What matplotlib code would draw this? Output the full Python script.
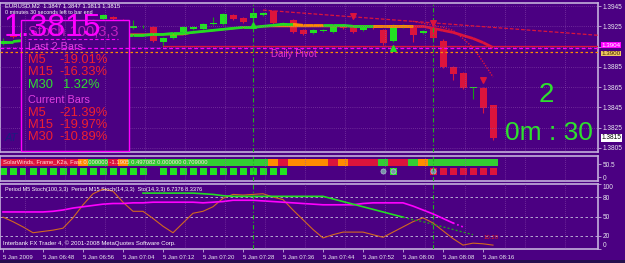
import numpy as np
import matplotlib.pyplot as plt
from matplotlib.patches import Rectangle
from matplotlib.lines import Line2D
from matplotlib.transforms import blended_transform_factory

plt.rcParams['font.family'] = ['Liberation Sans', 'DejaVu Sans']

W, H = 625, 263
BG = '#4B0082'
FRAME = '#C4B0DC'
GRID = '#9050B0'
BULL = '#22E022'
BEAR = '#DC143C'
ORANGE = '#FF8C00'
MAGENTA = '#FF00FF'
TXT = '#E8E8F0'

# ---- EURUSD M2 candles (bar 0 = 5 Jan 2009 06:40) ----
opens = [1.3908, 1.3917, 1.3914, 1.3918, 1.3916, 1.3921, 1.3924, 1.3922, 1.3927, 1.3929,
         1.3932, 1.3934, 1.3931, 1.3923, 1.3925, 1.3924, 1.3910, 1.3913, 1.3919, 1.3922,
         1.3922, 1.3927, 1.3927, 1.3936, 1.3933, 1.3933, 1.3936, 1.3940, 1.3926, 1.3931,
         1.3921, 1.3918, 1.3920, 1.3919, 1.3925, 1.3924, 1.3921, 1.3925, 1.3921, 1.3911,
         1.3924, 1.3924, 1.3918, 1.3923, 1.3911, 1.3885, 1.3879, 1.3864, 1.3864, 1.3847]
highs = [1.3913, 1.3918, 1.3919, 1.3920, 1.3922, 1.3925, 1.3926, 1.3928, 1.3930, 1.3932,
         1.3937, 1.3935, 1.3932, 1.3931, 1.3926, 1.3925, 1.3914, 1.3919, 1.3925, 1.3925,
         1.3928, 1.3934, 1.3938, 1.3937, 1.3934, 1.3939, 1.3939, 1.3941, 1.3929, 1.3932,
         1.3922, 1.3922, 1.3922, 1.3925, 1.3926, 1.3925, 1.3926, 1.3926, 1.3922, 1.3927,
         1.3927, 1.3926, 1.3921, 1.3925, 1.3912, 1.3886, 1.3880, 1.3865, 1.3865, 1.3847]
lows = [1.3907, 1.3913, 1.3913, 1.3915, 1.3915, 1.3920, 1.3921, 1.3921, 1.3925, 1.3928,
        1.3931, 1.3931, 1.3925, 1.3922, 1.3923, 1.3910, 1.3906, 1.3912, 1.3918, 1.3921,
        1.3921, 1.3926, 1.3926, 1.3931, 1.3928, 1.3932, 1.3935, 1.3927, 1.3925, 1.3918,
        1.3916, 1.3917, 1.3919, 1.3918, 1.3922, 1.3918, 1.3920, 1.3922, 1.3907, 1.3910,
        1.3923, 1.3910, 1.3917, 1.3912, 1.3884, 1.3872, 1.3863, 1.3853, 1.3839, 1.3813]
closes = [1.3911, 1.3914, 1.3918, 1.3916, 1.3921, 1.3924, 1.3922, 1.3927, 1.3929, 1.3931,
          1.3936, 1.3932, 1.3926, 1.3925, 1.3925, 1.3911, 1.3913, 1.3918, 1.3924, 1.3924,
          1.3927, 1.3927, 1.3937, 1.3932, 1.3929, 1.3938, 1.3938, 1.3928, 1.3928, 1.3919,
          1.3917, 1.3921, 1.3921, 1.3924, 1.3923, 1.3919, 1.3925, 1.3923, 1.3909, 1.3926,
          1.3926, 1.3916, 1.3920, 1.3913, 1.3885, 1.3878, 1.3864, 1.3865, 1.3844, 1.3815]

# moving averages
ma_fast = [1.3910, 1.3910, 1.3911, 1.3911, 1.3912, 1.3912, 1.3912, 1.3913, 1.3913, 1.3914,
           1.3914, 1.3915, 1.3915, 1.3916, 1.3916, 1.3917, 1.3917, 1.3918, 1.3918, 1.3919,
           1.3920, 1.3921, 1.3922, 1.3923, 1.3924, 1.3924, 1.3925, 1.3926, 1.3927, 1.3927,
           1.3926, 1.3926, 1.3926, 1.3926, 1.3926, 1.3925, 1.3925, 1.3925, 1.3925, 1.3925,
           1.3925, 1.3925, 1.3925, 1.3923, 1.3921, 1.3919, 1.3916, 1.3913, 1.3909, 1.3904]
ma_state = 'g' * 30 + 'o' * 3 + 'g' * 5 + 'o' * 4 + 'r' * 8
ma_slow = [np.nan] * 10 + [1.3917] * 9 + [1.3919, 1.3920, 1.3921, 1.3922, 1.3923, 1.3924,
                                          1.3924, 1.3925, 1.3925] + [1.3925] * 15 + [np.nan] * 7
env_bars = [41, 42, 43, 44, 45, 46, 47, 48, 49]
env_prices = [1.3930, 1.3928, 1.3926, 1.3924, 1.3921, 1.3913, 1.3904, 1.3890, 1.3875]
trend_bars = [26, 59.7]
trend_prices = [1.3941, 1.3916]

red_level = 1.3906
red_level_start = 16
pivot_level = 1.3904
orange_level = 1.3900

up_bars = [25, 39]
up_prices = [1.3926, 1.3904]
down_bars = [35, 43, 48]
down_prices = [1.3935, 1.3928, 1.3872]

session_bars = [25, 43]

price_ticks = [1.3805, 1.3825, 1.3845, 1.3865, 1.3885, 1.3905, 1.3925, 1.3945]

# ---- middle indicator panel ----
strip_codes = 'r' * 8 + 'o' + 'gg' + 'r' + 'o' + 'g' * 14 + 'o' + 'r' + 'oooo' + 'r' + 'o' + 'rrr' + 'g' + 'rr' + 'g' + 'o' + 'g' * 7
square_codes = 'g' * 15 + '.' + 'g' * 13 + '.' * 10 + 'g' + '...' + 'r' * 7
circle_bars = [38, 39, 43]

# ---- stochastic panel ----
stoch_green = [np.nan] * 14 + [86, 86, 86, 86, 86, 86, 85, 84, 82, 81,
                               81, 81, 81, 81, 81, 81, 81, 81, 81, 77,
                               73, 69, 65, 61, 57, 53, 49, 45, 42, 38,
                               34, 30, 26, 22] + [np.nan] * 2
stoch_magenta = [57, 57, 57, 57, 57, 58, 60, 63, 65, 67,
                 69, 70, 70, 71, 71, 72, 72, 72, 72, 72,
                 71, 72, 73, 75, 75, 75, 74, 73, 72, 71,
                 70, 69, 68, 68, 68, 68, 70, 71, 71, 71,
                 71, 66, 60, 54, 47, 40, 34, np.nan, np.nan, np.nan]
stoch_orange = [49, 42, 34, 25, 27, 29, 32, 48, 68, 85,
                92, 89, 72, 58, 58, 47, 35, 25, 40, 55,
                58, 65, 78, 84, 83, 84, 85, 80, 76, 60,
                45, 30, 17, 22, 26, 26, 26, 22, 18, 26,
                34, 42, 48, 40, 28, 16, 6, 9, 8, 6]
stoch_levels = [20, 50, 80]

time_bars = [0, 4, 8, 12, 16, 20, 24, 28, 32, 36, 40, 44, 48]
time_labels = ['5 Jan 2009', '5 Jan 06:48', '5 Jan 06:56', '5 Jan 07:04', '5 Jan 07:12',
               '5 Jan 07:20', '5 Jan 07:28', '5 Jan 07:36', '5 Jan 07:44', '5 Jan 07:52',
               '5 Jan 08:00', '5 Jan 08:08', '5 Jan 08:16']


def fx(px):
    return px / W


def fy(py):
    return 1 - py / H


fig = plt.figure(figsize=(W / 100, H / 100), dpi=100, facecolor=BG)
fig.patches.append(Rectangle((0, 0), 1, fy(260), transform=fig.transFigure,
                             facecolor='#24104E', edgecolor='none', zorder=0))

ax1 = fig.add_axes([0, fy(152), 598 / W, (152 - 3) / H])
ax2 = fig.add_axes([0, fy(181), 598 / W, (181 - 156) / H])
ax3 = fig.add_axes([0, fy(249), 598 / W, (249 - 184) / H])

x = np.arange(len(opens))
grid_x = [b + 2.2 for b in time_bars] + [52.2, 56.2]

for ax in (ax1, ax2, ax3):
    ax.set_facecolor(BG)
    ax.set_xlim(-0.3, 59.5)
    for s in ax.spines.values():
        s.set_color(FRAME)
        s.set_linewidth(1.2)
    ax.yaxis.tick_right()
    ax.tick_params(axis='y', colors=FRAME, labelcolor=TXT, labelsize=4.7, length=2, pad=1.5, width=0.6)
    for gx in grid_x:
        ax.axvline(gx, color=GRID, ls=(0, (1, 2)), lw=0.5, zorder=3.5)
    for b in session_bars:
        ax.axvline(b, color='#20B020', ls=(0, (4, 2, 1, 2)), lw=0.8, zorder=5)

ax1.tick_params(axis='x', length=0, labelbottom=False)
ax2.tick_params(axis='x', length=0, labelbottom=False)

# ---- main price chart ----
o = np.array(opens)
c = np.array(closes)
up = c >= o
body_bottom = np.minimum(o, c)
body_h = np.maximum(np.abs(c - o), 0.00008)
ax1.vlines(x, lows, highs, colors=np.where(up, '#169A16', BEAR), lw=0.8, zorder=2)
ax1.bar(x, body_h, bottom=body_bottom, width=0.7, color=np.where(up, BULL, BEAR), zorder=2.2)

ax1.plot(x, ma_slow, color=ORANGE, lw=1.3, zorder=2.4)
seg_col = {'g': '#22DD22', 'o': ORANGE, 'r': BEAR}
for i in range(len(ma_fast) - 1):
    ax1.plot(x[i:i + 2], ma_fast[i:i + 2], color=seg_col[ma_state[i + 1]], lw=2.0,
             solid_capstyle='butt', zorder=2.5)
ax1.plot(env_bars, env_prices, color=BEAR, ls=(0, (1, 1)), lw=1.0, zorder=2.6)
ax1.plot(trend_bars, trend_prices, color=BEAR, ls=(0, (3, 1.5)), lw=0.9, zorder=2.6)

ax1.scatter(up_bars, up_prices, marker='^', s=16, color='#22DD22', zorder=6)
ax1.scatter(down_bars, down_prices, marker='v', s=16, color=BEAR, zorder=6)

ax1.set_ylim(1.3801, 1.3948)
ax1.set_yticks(price_ticks)
# the 1.3905 label sits under the pivot price boxes, so it is left blank
ax1.set_yticklabels(['' if abs(p - 1.3905) < 1e-6 else f'{p:.4f}' for p in price_ticks])
ax1.grid(axis='y', color=GRID, ls=(0, (1, 2)), lw=0.5, zorder=3.5)
ax1.set_axisbelow(False)

# info box (hides candles behind it)
ax1.add_patch(Rectangle((21 / 598, (152 - 151) / 149), 108 / 598, 131 / 149,
                        transform=ax1.transAxes, facecolor=BG, edgecolor=MAGENTA,
                        lw=1.0, zorder=3))

ax1.plot([red_level_start, 59.5], [red_level, red_level], color=BEAR, lw=0.9, zorder=4)
ax1.axhline(pivot_level, color=MAGENTA, ls=(0, (3, 2)), lw=0.9, zorder=4)
ax1.axhline(orange_level, color=ORANGE, ls=(0, (2, 2)), lw=0.9, zorder=4)
ax1.text(26.8, 1.3898, 'Daily Pivot', color='#E030D0', fontsize=7, va='center', zorder=6)

tr = blended_transform_factory(ax1.transAxes, ax1.transData)
ax1.text(1.006, pivot_level + 0.00022, f'{pivot_level:.4f}', transform=tr, fontsize=4.5,
         color='white', va='center', clip_on=False,
         bbox=dict(facecolor=MAGENTA, edgecolor='none', pad=0.3))
ax1.text(1.006, orange_level - 0.00018, f'{orange_level:.4f}', transform=tr, fontsize=4.5,
         color='#402000', va='center', clip_on=False,
         bbox=dict(facecolor='#F0C860', edgecolor='none', pad=0.3))
ax1.text(1.006, closes[-1], f'{closes[-1]:.4f}', transform=tr, fontsize=4.7,
         color='black', va='center', clip_on=False,
         bbox=dict(facecolor='white', edgecolor='none', pad=0.5))

# ---- middle indicator panel ----
code_col = {'r': BEAR, 'o': ORANGE, 'g': '#32CD32'}
ax2.bar(x, 27.2, bottom=42.7, width=1.0, color=[code_col[k] for k in strip_codes], zorder=2)
sq = [i for i, k in enumerate(square_codes) if k != '.']
ax2.bar(sq, 27.2, bottom=9.7, width=0.7,
        color=['#22E022' if square_codes[i] == 'g' else BEAR for i in sq], zorder=2)
ax2.scatter(circle_bars, [23] * len(circle_bars), s=14, color='#7890A8',
            edgecolors='#C0D0E0', linewidths=0.4, zorder=4)
ax2.set_ylim(-15.5, 81.6)
ax2.set_yticks([0, 50.5])
ax2.set_yticklabels(['0', '50.5'])

# ---- stochastic panel ----
ax3.plot(x, stoch_orange, color='#D2691E', lw=0.8, zorder=2)
ax3.plot(x[:46], stoch_magenta[:46], color=MAGENTA, lw=1.2, zorder=2.2)
ax3.plot(x[45:47], stoch_magenta[45:47], color=MAGENTA, ls=':', lw=1.2, zorder=2.2)
ax3.plot(x[14:41], stoch_green[14:41], color='#22DD22', lw=1.2, zorder=2.4)
ax3.plot(x[40:48], stoch_green[40:48], color='#1E9A1E', ls=(0, (1.5, 1.5)), lw=1.0, zorder=2.4)
for lv in stoch_levels:
    ax3.axhline(lv, color='#C8C0E0', ls=(0, (3, 3)), lw=0.6, zorder=1)
ax3.text(48.8, 18, '10.20', color='#E02020', fontsize=4.3, ha='center', va='center', zorder=6)
ax3.set_ylim(0, 100)
ax3.set_yticks([0, 20, 50, 80, 100])
ax3.set_yticklabels(['0', '20', '50', '80', '100'])
ylabs = ax3.get_yticklabels()
ylabs[0].set_va('bottom')
ylabs[-1].set_va('top')
ax3.set_xticks(time_bars)
ax3.set_xticklabels(time_labels, ha='left')
ax3.tick_params(axis='x', colors=FRAME, labelcolor=TXT, labelsize=4.3, length=2, pad=2, width=0.6)

# ---- overlay texts ----
fig.text(fx(5), fy(5.5), 'EURUSD,M2  1.3847 1.3847 1.3813 1.3815', fontsize=4.2,
         color='white', va='center')
fig.text(fx(5), fy(12.5), '0 minutes 30 seconds left to bar end', fontsize=3.9,
         color='white', va='center')
fig.text(fx(28), fy(32), 'Stoch 100,3,3', fontsize=10.5, color='#C020C0', va='center')
fig.text(fx(4), fy(27.5), '1.3815', fontsize=23, color=MAGENTA, va='center')
fig.add_artist(Line2D([fx(28), fx(118)], [fy(39), fy(39)], transform=fig.transFigure,
                      color=MAGENTA, ls=(0, (3, 2)), lw=0.8))

box_rows = [
    ('Last 2 Bars', None, 47.5, '#E040E0'),
    ('M5', '-19.01%', 60, '#F02030'),
    ('M15', '-16.33%', 72, '#F02030'),
    ('M30', '1.32%', 85, '#30E030'),
    ('Current Bars', None, 100, '#E040E0'),
    ('M5', '-21.39%', 113, '#F02030'),
    ('M15', '-19.97%', 125, '#F02030'),
    ('M30', '-10.89%', 137, '#F02030'),
]
for label, value, ypx, col in box_rows:
    if value is None:
        fig.text(fx(28), fy(ypx), label, fontsize=7.8, color=col, va='center')
    else:
        fig.text(fx(28), fy(ypx), label, fontsize=9.3, color=col, va='center')
        vx = 59 if value.startswith('-') else 63
        fig.text(fx(vx), fy(ypx), value, fontsize=9.3, color=col, va='center')

fig.text(fx(5), fy(138), 'AT', fontsize=8, color='#1C1C80', style='italic', va='center')
fig.text(fx(546), fy(95), '2', fontsize=20, color='#2EE02E', ha='center', va='center')
fig.text(fx(505), fy(133), '0m : 30', fontsize=19, color='#2EE02E', va='center')

fig.text(fx(3), fy(161.5), 'SolarWinds, Frame_K2a, Fast 0.000000 -1.1905 0.497082 0.000000 0.709000',
         fontsize=4.2, color='#FFE0E0', va='center')
fig.text(fx(5), fy(189), 'Period M5 Stoch(100,3,3)  Period M15 Stoch(14,3,3)  Sto(14,3,3) 6.7376 8.3376',
         fontsize=4.0, color='white', va='center')
fig.text(fx(3), fy(243), 'Interbank FX Trader 4, \u00a9 2001-2008 MetaQuotes Software Corp.',
         fontsize=4.3, color='white', va='center')

fig.savefig('out.png', dpi=100, facecolor=BG)
